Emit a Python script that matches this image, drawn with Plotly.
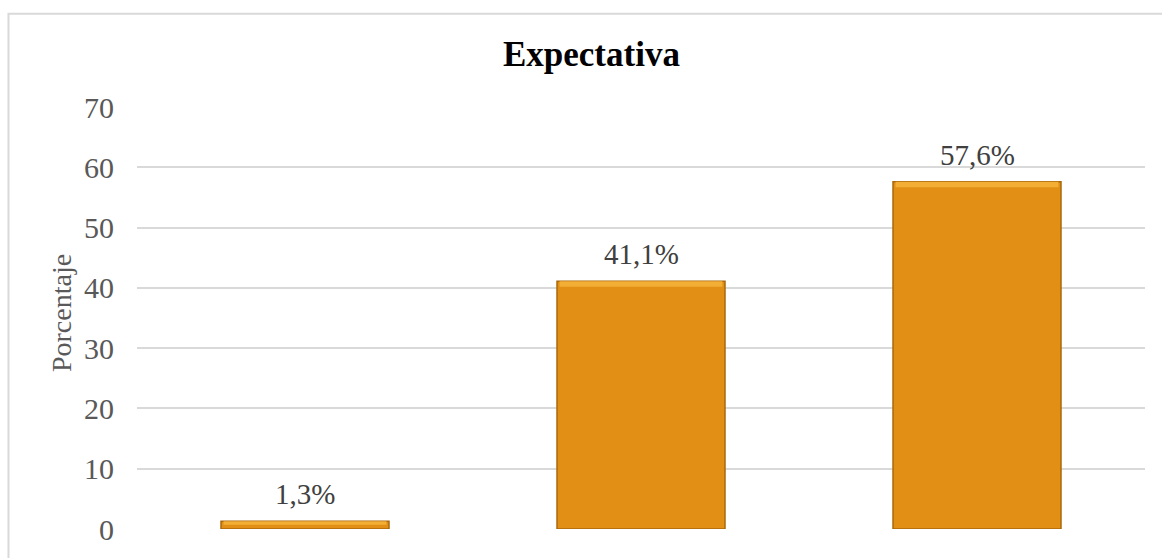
import plotly.graph_objects as go

# Expectativa survey results (percent of respondents)
categorias = ["Baja", "Media", "Alta"]
porcentajes = [1.3, 41.1, 57.6]
y_ticks = [0, 10, 20, 30, 40, 50, 60, 70]

FONT = "Liberation Serif, Times New Roman, serif"
BAR_MAIN = "#E28F16"
BAR_EDGE = "#A9690C"
BAR_TOP = "#F2AE35"

fig = go.Figure()

# main bars with a darker bevel edge
fig.add_trace(go.Bar(
    x=categorias, y=porcentajes, width=0.5,
    marker=dict(color=BAR_MAIN, line=dict(color=BAR_EDGE, width=1.5)),
    hoverinfo="skip", showlegend=False,
))

# lighter bevel strip along the top of each bar
top_band = [min(0.9, v * 0.45) for v in porcentajes]
fig.add_trace(go.Bar(
    x=categorias, y=top_band, base=[v - b for v, b in zip(porcentajes, top_band)],
    width=0.485,
    marker=dict(color=BAR_TOP, line=dict(width=0)),
    hoverinfo="skip", showlegend=False,
))

# value labels above the bars
for c, v in zip(categorias, porcentajes):
    fig.add_annotation(
        x=c, y=v, xref="x", yref="y",
        text=f"{v:.1f}".replace(".", ",") + "%",
        showarrow=False, yanchor="bottom", yshift=9,
        font=dict(family=FONT, size=29, color="#404040"),
    )

# axis title
fig.add_annotation(
    x=-0.0754, y=0.5117, xref="paper", yref="paper",
    text="Porcentaje", textangle=-90, showarrow=False,
    xanchor="center", yanchor="middle",
    font=dict(family=FONT, size=28, color="#595959"),
)

# chart frame
fig.add_shape(
    type="rect", xref="paper", yref="paper",
    x0=-0.1275, x1=1.05, y0=-0.2, y1=1.2208,
    line=dict(color="#D9D9D9", width=2), fillcolor="rgba(0,0,0,0)",
    layer="below",
)

fig.update_layout(
    width=1162, height=558,
    margin=dict(l=137, r=17, t=107, b=23),
    paper_bgcolor="white", plot_bgcolor="white",
    barmode="overlay", bargap=0.5,
    title=dict(
        text="<b>Expectativa</b>", x=0.509, xref="container", xanchor="center",
        y=1 - 54 / 558, yref="container", yanchor="middle",
        font=dict(family=FONT, size=35, color="#000000"),
    ),
    xaxis=dict(showticklabels=False, showgrid=False, showline=False,
               zeroline=False, ticks=""),
    yaxis=dict(
        range=[0, 70], tickvals=y_ticks, ticktext=[str(t) for t in y_ticks],
        showgrid=True, gridcolor="#D9D9D9", gridwidth=1.5,
        zeroline=False, showline=False, ticks="",
        ticklabelstandoff=22,
        tickfont=dict(family=FONT, size=30, color="#595959"),
    ),
)

fig.write_html("out.html")
